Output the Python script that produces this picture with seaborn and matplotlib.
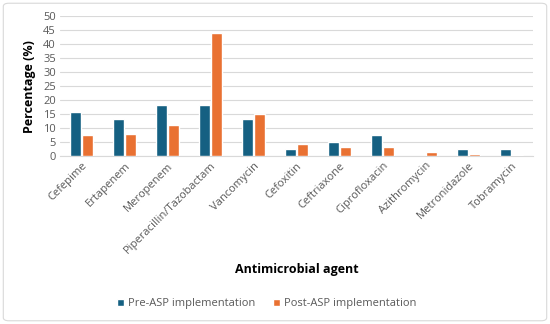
import matplotlib.pyplot as plt
import seaborn as sns
import pandas as pd
from matplotlib.patches import FancyBboxPatch

agentes = ['Cefepime', 'Ertapenem', 'Meropenem', 'Piperacillin/Tazobactam',
           'Vancomycin', 'Cefoxitin', 'Ceftriaxone', 'Ciprofloxacin',
           'Azithromycin', 'Metronidazole', 'Tobramycin']
pre_asp = [15.6, 13.1, 18.3, 18.3, 13.1, 2.5, 5.1, 7.7, 0, 2.5, 2.5]
post_asp = [7.4, 8.0, 11.1, 43.9, 15.2, 4.3, 3.2, 3.2, 1.5, 0.7, 0.4]
series = ['Pre-ASP implementation', 'Post-ASP implementation']
colores = ['#156082', '#E97132']


def main():
    df = pd.DataFrame({
        'agente': agentes * 2,
        'valor': pre_asp + post_asp,
        'serie': [series[0]] * len(agentes) + [series[1]] * len(agentes),
    })

    sns.set_style('white')
    plt.rcParams['font.family'] = ['Open Sans', 'DejaVu Sans']

    fig = plt.figure(figsize=(5.5, 3.24), dpi=100)
    ax = fig.add_axes([0.109, 0.518, 0.86, 0.432])

    sns.barplot(data=df, x='agente', y='valor', hue='serie', palette=colores,
                saturation=1, width=0.56, gap=0.1, ax=ax, legend=True, zorder=3)

    ax.set_ylim(0, 50)
    ax.set_yticks(range(0, 51, 5))
    ax.yaxis.grid(True, color='#D9D9D9', linewidth=0.8, zorder=0)
    ax.set_xlim(-0.5, len(agentes) - 0.5)
    for s in ['top', 'right', 'left']:
        ax.spines[s].set_visible(False)
    ax.spines['bottom'].set_color('#D9D9D9')
    ax.tick_params(axis='both', length=0, labelsize=8, colors='#595959', pad=3)
    ax.set_xticks(range(len(agentes)))
    ax.set_xticklabels(agentes, rotation=45, ha='right', rotation_mode='anchor')

    ax.set_ylabel('Percentage (%)', fontsize=9, fontweight='bold', color='#000000', labelpad=5)
    ax.set_xlabel('Antimicrobial agent', fontsize=9, fontweight='bold', color='#000000')
    ax.xaxis.set_label_coords(0.5, -0.76)

    handles, labels = ax.get_legend_handles_labels()
    ax.get_legend().remove()
    fig.legend(handles, labels, loc='center', bbox_to_anchor=(0.485, 0.062), ncol=2,
               frameon=False, fontsize=8, handlelength=0.6, handleheight=0.6,
               columnspacing=1.6, handletextpad=0.4, labelcolor='#595959')

    borde = FancyBboxPatch((0.006, 0.01), 0.988, 0.98, boxstyle='round,pad=0,rounding_size=0.01',
                           transform=fig.transFigure, facecolor='none', edgecolor='#D9D9D9',
                           linewidth=0.8)
    fig.patches.append(borde)

    fig.savefig('out.png', dpi=100)


if __name__ == '__main__':
    main()
